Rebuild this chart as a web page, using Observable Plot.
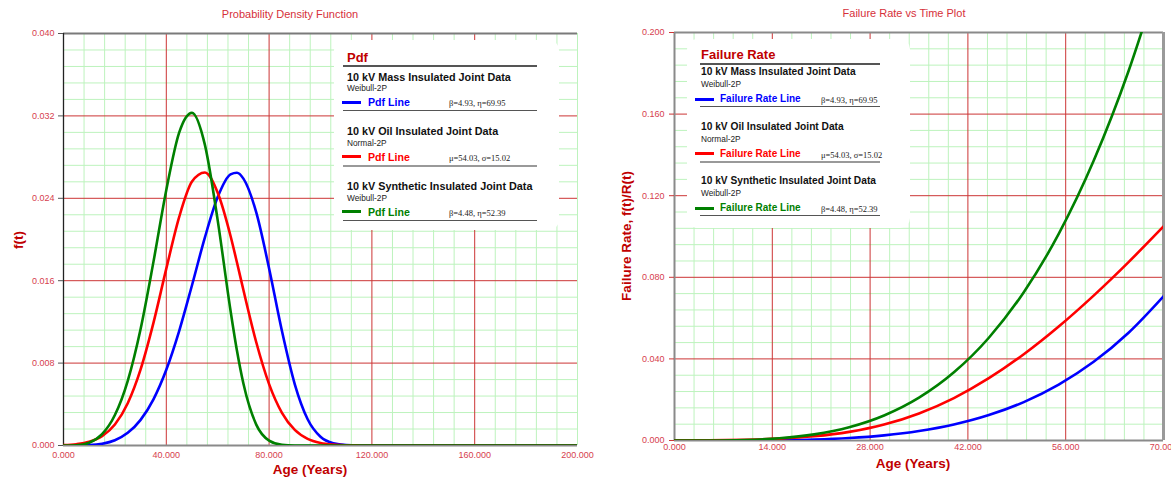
<!DOCTYPE html>
<html><head><meta charset="utf-8">
<script src="https://cdn.jsdelivr.net/npm/d3@7"></script>
<script src="https://cdn.jsdelivr.net/npm/@observablehq/plot@0.6"></script>
<style>
body{margin:0;background:#fff;}
#wrap{position:relative;width:1171px;height:482px;overflow:hidden;font-family:"Liberation Sans",Arial,sans-serif;}
.abs{position:absolute;white-space:nowrap;line-height:1;}
.pl{position:absolute;top:0;}
.pl svg{overflow:visible;}
</style></head><body><div id="wrap"></div>
<script>
// ---------- data ----------
const seriesNames = ["10 kV Mass Insulated Joint Data", "10 kV Oil Insulated Joint Data", "10 kV Synthetic Insulated Joint Data"];
const distNames = ["Weibull-2P", "Normal-2P", "Weibull-2P"];
const paramLabels = ["β=4.93, η=69.95", "μ=54.03, σ=15.02", "β=4.48, η=52.39"];
const seriesColors = ["#0000ff", "#ff0000", "#008000"];

const pdfAges = [0,5,10,15,20,25,30,35,40,45,50,55,60,65,67.5,70,75,80,85,90,95,100,105,110,115,120,200];
const pdfMass = [0,0.0000022,0.0000338,0.000166,0.000513,0.001228,0.002491,0.004486,0.007354,0.011112,0.015561,0.020181,0.024119,0.026324,0.026481,0.025909,0.022628,0.017191,0.011108,0.005941,0.002548,0.000848,0.000211,0.0000376,0.0000046,0,0];
const pdfOil = [0.0000411,0.000129,0.000362,0.000908,0.002040,0.004103,0.007386,0.011903,0.017169,0.022169,0.025621,0.026505,0.024543,0.020342,0.017766,0.015092,0.010022,0.005957,0.003169,0.001510,0.000644,0.000246,0.0000839,0.0000256,0.000007,0.0000017,0];
const pdfSynth = [0,0.0000241,0.000268,0.001097,0.002958,0.006282,0.011315,0.017828,0.024806,0.030373,0.032297,0.029208,0.021858,0.013079,0.009200,0.006014,0.002029,0.000478,0.0000737,0.000007,0,0,0,0,0,0,0];

const hrAges = [0,5,10,15,20,25,30,35,40,45,50,55,60,65,70];
const hrMass = [0,0.0000022,0.0000338,0.000166,0.000515,0.001235,0.002530,0.004636,0.007837,0.012450,0.018837,0.027394,0.038565,0.052821,0.070677];
const hrOil = [0.0000411,0.000129,0.000362,0.000912,0.002064,0.004215,0.007814,0.013264,0.020814,0.030529,0.042295,0.055888,0.071034,0.087459,0.10493];
const hrSynth = [0,0.0000241,0.000269,0.001101,0.002997,0.006515,0.012286,0.021007,0.033435,0.050375,0.072688,0.10127,0.13710,0.18113,0.23441];

const pdfXTicks = [0,40,80,120,160,200];
const pdfYTicks = [0,0.008,0.016,0.024,0.032,0.040];
const hrXTicks = [0,14,28,42,56,70];
const hrYTicks = [0,0.04,0.08,0.12,0.16,0.20];

// ---------- styling ----------
const GREEN_GRID = "#bdf3bd";
const RED_GRID = "#cc3535";
const TICK_COL = "#d6404e";
const LABEL_COL = "#c00000";
const fmt = d3.format(".3f");

const wrap = document.getElementById("wrap");

function minors(ticks) {
  const out = [];
  for (let i = 0; i < ticks.length - 1; i++) {
    const step = (ticks[i+1] - ticks[i]) / 5;
    for (let k = 1; k < 5; k++) out.push(ticks[i] + k * step);
  }
  return out;
}

function chart(o) {
  const marks = [
    Plot.ruleX(minors(o.xTicks).concat([o.xTicks[o.xTicks.length-1]]), {stroke: GREEN_GRID, strokeWidth: 1}),
    Plot.ruleY(minors(o.yTicks), {stroke: GREEN_GRID, strokeWidth: 1}),
    Plot.ruleX(o.xTicks.slice(1, -1), {stroke: RED_GRID, strokeWidth: 1}),
    Plot.ruleY(o.yTicks.slice(1, -1), {stroke: RED_GRID, strokeWidth: 1}),
    ...o.frame,
    Plot.axisX(o.xTicks, {tickFormat: fmt, tickSize: 0, tickPadding: o.xPad, fontSize: 9, fill: TICK_COL, label: null}),
    Plot.axisY(o.yTicks, {tickFormat: fmt, tickSize: 5, tickPadding: o.yPad, fontSize: 9, fill: TICK_COL, stroke: o.tickStroke, label: null}),
    ...o.series.map((vals, i) => Plot.lineY(vals, {x: o.ages, y: d => d, stroke: seriesColors[i], strokeWidth: 2.6, curve: "monotone-x", clip: true}))
  ];
  const svg = Plot.plot({
    width: o.width, height: 482,
    marginTop: o.mt, marginBottom: o.mb, marginLeft: o.ml, marginRight: o.mr,
    x: {domain: o.xDomain},
    y: {domain: o.yDomain},
    style: {fontFamily: "Liberation Sans, Arial, sans-serif", background: "transparent", overflow: "visible"},
    marks
  });
  const holder = document.createElement("div");
  holder.className = "pl";
  holder.style.left = o.left + "px";
  holder.appendChild(svg);
  wrap.appendChild(holder);
}

chart({
  left: 0, width: 590, mt: 33, mb: 37, ml: 63, mr: 13,
  xDomain: [0, 200], yDomain: [0, 0.04],
  xTicks: pdfXTicks, yTicks: pdfYTicks, ages: pdfAges,
  series: [pdfMass, pdfOil, pdfSynth],
  xPad: 6, yPad: 4, tickStroke: "#555",
  frame: [
    Plot.ruleY([0.04], {stroke: "#7a7a7a", strokeWidth: 2}),
    Plot.ruleY([0], {stroke: "#8a8a8a", strokeWidth: 2}),
    Plot.ruleX([0], {stroke: "#222", strokeWidth: 1.3})
  ]
});

chart({
  left: 590, width: 581, mt: 32, mb: 42, ml: 84, mr: 8,
  xDomain: [0, 70], yDomain: [0, 0.2],
  xTicks: hrXTicks, yTicks: hrYTicks, ages: hrAges,
  series: [hrMass, hrOil, hrSynth],
  xPad: 3, yPad: 5, tickStroke: RED_GRID,
  frame: [
    Plot.ruleY([0.2], {stroke: "#8a8a8a", strokeWidth: 2}),
    Plot.ruleY([0], {stroke: "#8a8a8a", strokeWidth: 2}),
    Plot.ruleX([0], {stroke: "#8a8a8a", strokeWidth: 2}),
    Plot.ruleX([70], {stroke: "#9a9a9a", strokeWidth: 3})
  ]
});

// ---------- overlay texts ----------
function addText(x, y, text, css, anchor) {
  const d = document.createElement("div");
  d.className = "abs";
  d.textContent = text;
  d.style.left = x + "px";
  d.style.top = y + "px";
  d.style.transform = anchor === "center" ? "translate(-50%,-50%)" : anchor === "rot" ? "translate(-50%,-50%) rotate(-90deg)" : "translateY(-50%)";
  Object.assign(d.style, css);
  wrap.appendChild(d);
}
function addBox(x, y, w, h, css) {
  const d = document.createElement("div");
  d.className = "abs";
  Object.assign(d.style, {left: x + "px", top: y + "px", width: w + "px", height: h + "px"}, css);
  wrap.appendChild(d);
}

// titles
addText(290, 14, "Probability Density Function", {fontSize: "11px", color: "#d6303a"}, "center");
addText(904, 13, "Failure Rate vs Time Plot", {fontSize: "11px", color: "#d6303a"}, "center");
// axis labels
addText(310, 470, "Age (Years)", {fontSize: "13.5px", fontWeight: "bold", color: LABEL_COL}, "center");
addText(913, 464, "Age (Years)", {fontSize: "13.5px", fontWeight: "bold", color: LABEL_COL}, "center");
addText(19, 240, "f(t)", {fontSize: "13.5px", fontWeight: "bold", color: LABEL_COL}, "rot");
addText(627, 236, "Failure Rate, f(t)/R(t)", {fontSize: "13.5px", fontWeight: "bold", color: LABEL_COL}, "rot");

// legends
function legend(L) {
  addBox(L.bx, L.by, L.bw, L.bh, {background: "#fff", borderRadius: "10px"});
  addText(L.tx, L.titleY, L.title, {fontSize: "13px", fontWeight: "bold", color: LABEL_COL});
  addBox(L.rx1, L.ruleY0 - 1, L.rx2 - L.rx1, 1.5, {background: "#555"});
  for (let i = 0; i < 3; i++) {
    const off = i * L.step;
    addText(L.tx, L.nameY + off, seriesNames[i], {fontSize: L.nameSize, fontWeight: "bold", color: "#111"});
    addText(L.tx, L.distY + off, distNames[i], {fontSize: "8.3px", color: "#222"});
    addBox(L.lx1, L.lineY + off - 1.5, L.lx2 - L.lx1, 3, {background: seriesColors[i]});
    addText(L.labX, L.lineY + off, L.lineLabel, {fontSize: L.labSize, fontWeight: "bold", color: seriesColors[i]});
    addText(L.parX, L.lineY + off + 1, paramLabels[i], {fontSize: "8.5px", color: "#222", fontFamily: "Liberation Serif, serif"});
    addBox(L.rx1, L.ruleY + off - 1, L.rx2 - L.rx1, i === 1 ? 2 : 1.3, {background: i === 1 ? "#999" : "#555"});
  }
}
legend({bx: 334, by: 40, bw: 225, bh: 190, tx: 347, title: "Pdf", titleY: 57, ruleY0: 66, rx1: 343, rx2: 537,
  nameY: 76.5, distY: 88, lineY: 102, ruleY: 111, step: 54.8, lx1: 342, lx2: 361, labX: 368, parX: 449,
  lineLabel: "Pdf Line", nameSize: "10.8px", labSize: "10.6px"});
legend({bx: 687, by: 39, bw: 223, bh: 189, tx: 701, title: "Failure Rate", titleY: 54, ruleY0: 64, rx1: 700, rx2: 880,
  nameY: 72, distY: 84, lineY: 99, ruleY: 107, step: 54.5, lx1: 695, lx2: 714, labX: 720, parX: 821,
  lineLabel: "Failure Rate Line", nameSize: "10.2px", labSize: "10px"});
</script>
</body></html>
